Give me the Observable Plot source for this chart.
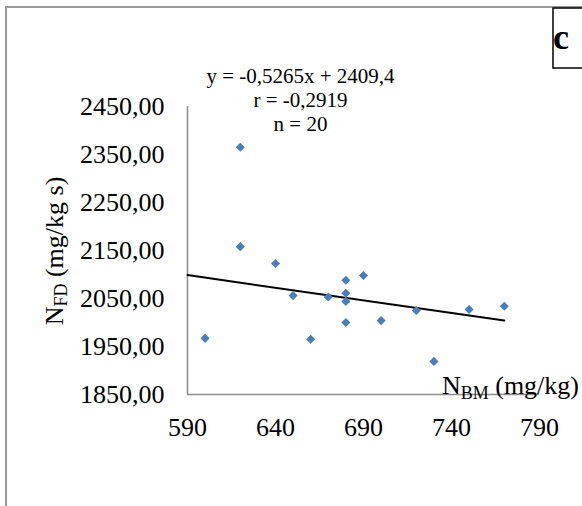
<!DOCTYPE html>
<html>
<head>
<meta charset="utf-8">
<script src="https://cdn.jsdelivr.net/npm/d3@7"></script>
<script src="https://cdn.jsdelivr.net/npm/@observablehq/plot@0.6"></script>
<style>
  html, body { margin: 0; padding: 0; background: white; }
  svg { display: block; }
</style>
</head>
<body>
<div id="chart"></div>
<script>
// ---- data ----
const nBM = [600, 620, 620, 640, 650, 660, 670, 680, 680, 680, 680, 690, 700, 720, 730, 750, 770];
const nFD = [1967, 2365, 2158, 2123, 2056, 1965, 2053, 2088, 2061, 2044, 2000, 2098, 2004, 2025, 1919, 2027, 2034];
const xTicks = [590, 640, 690, 740, 790];
const yTicks = [1850, 1950, 2050, 2150, 2250, 2350, 2450];
const slope = -0.5265;
const intercept = 2409.4;
const fitRange = [590, 770];
const statLines = ["y = -0,5265x + 2409,4", "r = -0,2919", "n = 20"];
const panelLabel = "c";

// ---- build ----
const points = nBM.map((x, i) => ({x, y: nFD[i]}));
const fit = fitRange.map(x => ({x, y: intercept + slope * x}));
const serif = "'Liberation Serif', 'Times New Roman', serif";
const axisGray = "#8c8c8c";

const chart = Plot.plot({
  width: 582,
  height: 506,
  marginLeft: 187,
  marginRight: 43,
  marginTop: 106,
  marginBottom: 112,
  style: {fontFamily: serif, fontSize: "26px", color: "black", background: "white"},
  x: {domain: [590, 790]},
  y: {domain: [1850, 2450]},
  marks: [
    Plot.ruleX([590], {y1: 1850, y2: 2450, stroke: axisGray, strokeWidth: 1.5}),
    Plot.ruleY([1850], {x1: 590, x2: 790, stroke: axisGray, strokeWidth: 1.5}),
    Plot.axisX({ticks: xTicks, tickSize: 0, tickPadding: 23, label: null, fontSize: 26, tickFormat: d => String(d)}),
    Plot.axisY({ticks: yTicks, tickSize: 0, tickPadding: 23, label: null, fontSize: 26,
      tickFormat: d => d.toFixed(2).replace(".", ",")}),
    Plot.line(fit, {x: "x", y: "y", stroke: "black", strokeWidth: 2}),
    Plot.dot(points, {x: "x", y: "y", symbol: "diamond2", r: 4.1, fill: "#4a7ebb", stroke: "none"}),
    Plot.text([statLines.join("\n")], {frameAnchor: "top", dx: -63, dy: -41, lineAnchor: "top",
      lineHeight: 1.143, fontSize: 21, textAnchor: "middle", fill: "black"})
  ]
});

const svg = d3.select(chart);

// outer gray border (extends past the window on right and bottom)
svg.append("rect")
  .attr("x", 6).attr("y", 7).attr("width", 640).attr("height", 560)
  .attr("fill", "none").attr("stroke", "#999999").attr("stroke-width", 2);

// panel label box
svg.append("rect")
  .attr("x", 553).attr("y", 8).attr("width", 60).attr("height", 60)
  .attr("fill", "white").attr("stroke", "black").attr("stroke-width", 1.5);
svg.append("text")
  .attr("x", 561).attr("y", 49)
  .attr("font-family", serif).attr("font-size", 36).attr("font-weight", "bold")
  .attr("fill", "black")
  .text(panelLabel);

// x axis title with subscript
const xt = svg.append("text")
  .attr("x", 579).attr("y", 394).attr("text-anchor", "end")
  .attr("font-family", serif).attr("font-size", 26).attr("fill", "black");
xt.append("tspan").text("N");
xt.append("tspan").attr("font-size", 18).attr("dy", 5).text("BM");
xt.append("tspan").attr("dy", -5).text(" (mg/kg)");

// y axis title with subscript
const yt = svg.append("text")
  .attr("transform", "translate(63,251) rotate(-90)")
  .attr("text-anchor", "middle")
  .attr("font-family", serif).attr("font-size", 26).attr("fill", "black");
yt.append("tspan").text("N");
yt.append("tspan").attr("font-size", 18).attr("dy", 4).text("FD");
yt.append("tspan").attr("dy", -4).text(" (mg/kg s)");

document.getElementById("chart").appendChild(chart);
</script>
</body>
</html>
